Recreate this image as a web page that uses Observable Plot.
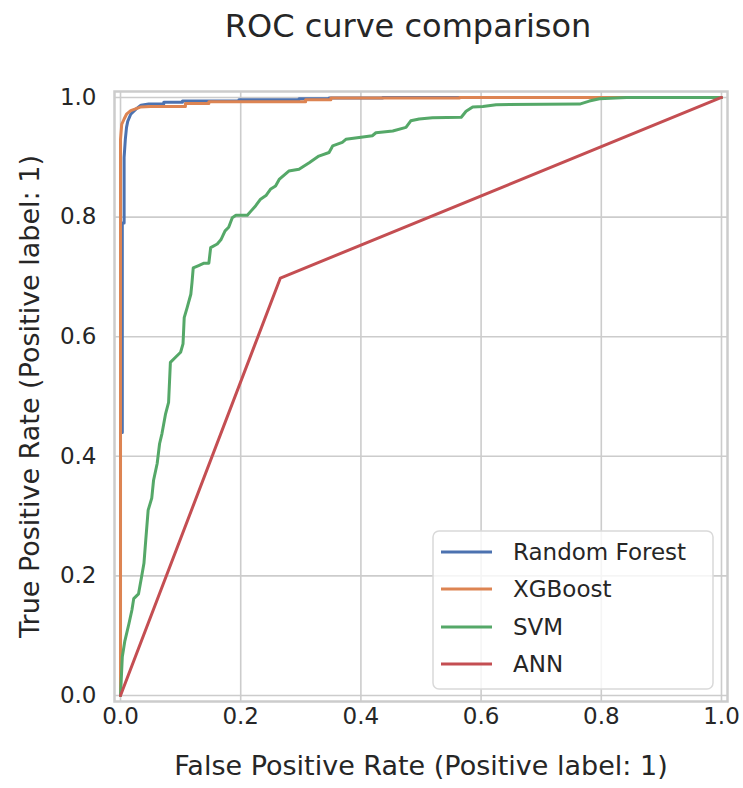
<!DOCTYPE html>
<html>
<head>
<meta charset="utf-8">
<script src="https://cdn.jsdelivr.net/npm/d3@7"></script>
<script src="https://cdn.jsdelivr.net/npm/@observablehq/plot@0.6"></script>
<style>
  html, body { margin: 0; padding: 0; background: white; }
</style>
</head>
<body>
<div id="chart"></div>
<script>
const title = "ROC curve comparison";
const xLabel = "False Positive Rate (Positive label: 1)";
const yLabel = "True Positive Rate (Positive label: 1)";
const ticks = [0, 0.2, 0.4, 0.6, 0.8, 1.0];

const models = ["Random Forest", "XGBoost", "SVM", "ANN"];
const colors = ["#4C72B0", "#DD8452", "#55A868", "#C44E52"];

const rfFpr = [0, 0, 0.003, 0.003, 0.006, 0.006, 0.008, 0.010, 0.012, 0.017, 0.026, 0.034, 0.047, 0.072, 0.072, 0.103, 0.103, 0.197, 0.197, 0.297, 0.297, 0.347, 0.347, 0.436, 0.436, 1];
const rfTpr = [0, 0.44, 0.44, 0.79, 0.79, 0.90, 0.93, 0.95, 0.96, 0.972, 0.981, 0.987, 0.989, 0.989, 0.992, 0.992, 0.994, 0.994, 0.996, 0.996, 0.998, 0.998, 0.999, 0.999, 1, 1];

const xgbFpr = [0, 0, 0.002, 0.006, 0.010, 0.017, 0.033, 0.050, 0.108, 0.108, 0.147, 0.147, 0.308, 0.308, 0.350, 0.350, 0.564, 0.564, 1];
const xgbTpr = [0, 0.93, 0.955, 0.964, 0.972, 0.978, 0.984, 0.985, 0.985, 0.990, 0.990, 0.993, 0.993, 0.996, 0.996, 0.999, 0.999, 1, 1];

const svmFpr = [0, 0.003, 0.007, 0.014, 0.019, 0.022, 0.030, 0.035, 0.039, 0.042, 0.046, 0.052, 0.055, 0.061, 0.065, 0.069, 0.075, 0.080, 0.083, 0.092, 0.100, 0.104, 0.106, 0.111, 0.117, 0.119, 0.121, 0.130, 0.139, 0.147, 0.150, 0.161, 0.167, 0.174, 0.180, 0.186, 0.192, 0.211, 0.217, 0.225, 0.233, 0.242, 0.250, 0.258, 0.264, 0.280, 0.297, 0.314, 0.330, 0.347, 0.353, 0.369, 0.375, 0.397, 0.419, 0.425, 0.453, 0.475, 0.483, 0.497, 0.519, 0.567, 0.575, 0.586, 0.603, 0.625, 0.764, 0.780, 0.797, 0.842, 1];
const svmTpr = [0, 0.065, 0.090, 0.120, 0.143, 0.162, 0.170, 0.198, 0.221, 0.260, 0.310, 0.330, 0.360, 0.388, 0.421, 0.438, 0.471, 0.490, 0.557, 0.566, 0.574, 0.588, 0.632, 0.649, 0.671, 0.691, 0.715, 0.719, 0.723, 0.723, 0.749, 0.755, 0.762, 0.777, 0.783, 0.799, 0.803, 0.803, 0.810, 0.819, 0.830, 0.836, 0.847, 0.852, 0.863, 0.877, 0.880, 0.891, 0.902, 0.908, 0.919, 0.925, 0.930, 0.933, 0.936, 0.941, 0.944, 0.950, 0.961, 0.964, 0.966, 0.967, 0.977, 0.984, 0.985, 0.988, 0.989, 0.994, 0.998, 1.0, 1];

const annFpr = [0, 0.266, 1];
const annTpr = [0, 0.698, 1];

const series = [[rfFpr, rfTpr], [xgbFpr, xgbTpr], [svmFpr, svmTpr], [annFpr, annTpr]];
const lineData = series.map(([f, t], i) => f.map((v, j) => ({model: models[i], fpr: v, tpr: t[j]})));

const fmt = d3.format(".1f");
const textColor = "#262626";
const gridColor = "#cccccc";

const chart = Plot.plot({
  width: 743,
  height: 788,
  marginLeft: 114,
  marginRight: 16,
  marginTop: 91,
  marginBottom: 87,
  x: {domain: [-0.01, 1.01]},
  y: {domain: [-0.01, 1.01]},
  style: {fontFamily: "DejaVu Sans", color: textColor, background: "white"},
  marks: [
    Plot.gridX(ticks, {stroke: gridColor, strokeOpacity: 1, strokeWidth: 1.6}),
    Plot.gridY(ticks, {stroke: gridColor, strokeOpacity: 1, strokeWidth: 1.6}),
    Plot.frame({stroke: gridColor, strokeWidth: 2.5}),
    Plot.axisX(ticks, {tickSize: 0, tickPadding: 6, fontSize: 23, tickFormat: fmt, label: null}),
    Plot.axisY(ticks, {tickSize: 0, tickPadding: 18, fontSize: 23, tickFormat: fmt, label: null}),
    ...lineData.map((d, i) => Plot.line(d, {x: "fpr", y: "tpr", stroke: colors[i], strokeWidth: 3})),
    Plot.text([xLabel], {frameAnchor: "bottom", dy: 73, fontSize: 27}),
    Plot.text([yLabel], {frameAnchor: "left", dx: -84, rotate: -90, fontSize: 27, textAnchor: "middle", lineAnchor: "middle"}),
    Plot.text([title], {frameAnchor: "top", dy: -77, dx: -13, fontSize: 32})
  ]
});

// Legend (layout overlay)
const svg = d3.select(chart);
const lg = svg.append("g").attr("font-family", "DejaVu Sans").attr("font-size", 23)
  .attr("fill", textColor).attr("text-anchor", "start");
lg.append("rect").attr("x", 433).attr("y", 531).attr("width", 280).attr("height", 158)
  .attr("rx", 6).attr("fill", "white").attr("fill-opacity", 0.8).attr("stroke", "#d9d9d9").attr("stroke-width", 1.5);
const rowY = [552, 589, 627, 664];
models.forEach((m, i) => {
  lg.append("line").attr("x1", 441).attr("x2", 492).attr("y1", rowY[i]).attr("y2", rowY[i])
    .attr("stroke", colors[i]).attr("stroke-width", 3);
  lg.append("text").attr("x", 513).attr("y", rowY[i]).attr("dy", "0.35em").text(m);
});

document.getElementById("chart").appendChild(chart);
</script>
</body>
</html>
